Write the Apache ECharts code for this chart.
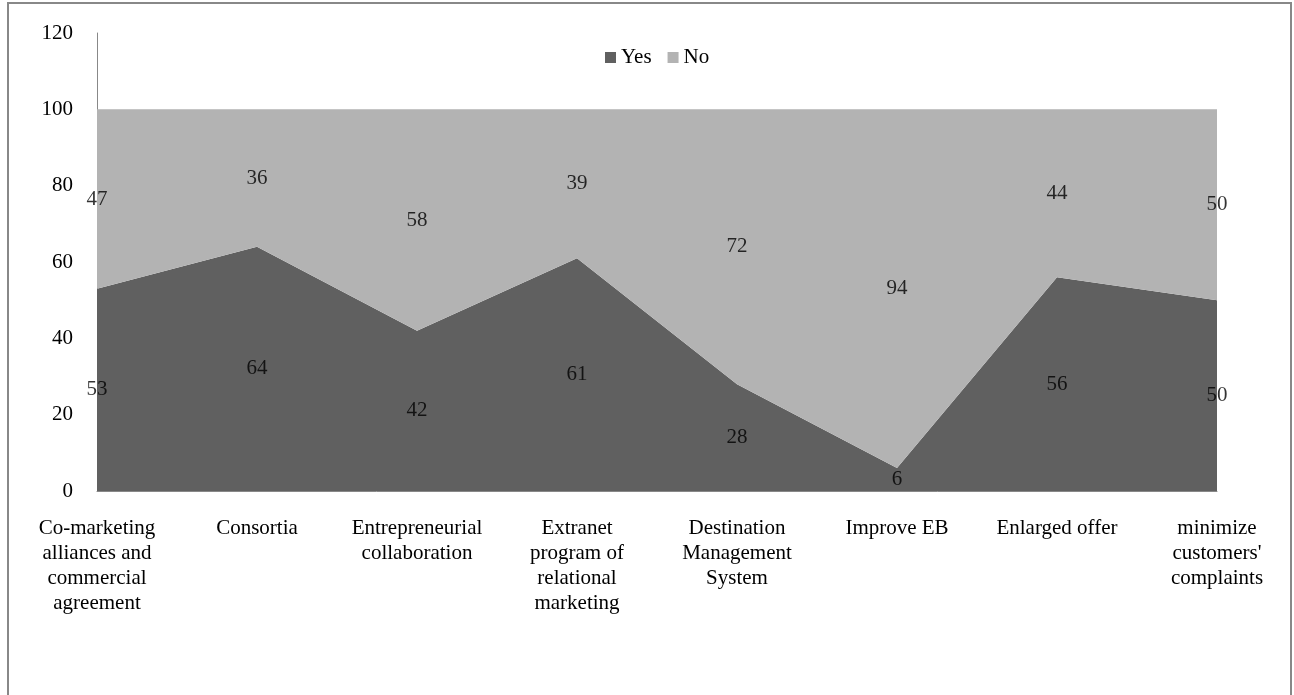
<!DOCTYPE html>
<html>
<head>
<meta charset="utf-8">
<script src="https://cdn.jsdelivr.net/npm/echarts@6/dist/echarts.min.js"></script>
<style>
  html, body { margin: 0; padding: 0; background: #fff; }
  #chart { width: 1294px; height: 695px; }
</style>
</head>
<body>
<div id="chart"></div>
<script>
// Categories (line breaks as they appear under the axis)
const categories = [
  'Co-marketing\nalliances and\ncommercial\nagreement',
  'Consortia',
  'Entrepreneurial\ncollaboration',
  'Extranet\nprogram of\nrelational\nmarketing',
  'Destination\nManagement\nSystem',
  'Improve EB',
  'Enlarged offer',
  "minimize\ncustomers'\ncomplaints"
];
const yesValues = [53, 64, 42, 61, 28, 6, 56, 50];
const noValues  = [47, 36, 58, 39, 72, 94, 44, 50];
const yTicks = [0, 20, 40, 60, 80, 100, 120];

const FONT = '"Liberation Serif", "Times New Roman", serif';
const FONT_SIZE = 21;
const YES_COLOR = '#606060';
const NO_COLOR = '#b3b3b3';

// Label anchors sit at the middle of each stacked band
const yesMid = yesValues.map(v => v / 2);
const noMid = yesValues.map((v, i) => v + noValues[i] / 2);

function labelSeries(mids, values) {
  return {
    type: 'scatter',
    data: mids.map((m, i) => ({ value: m, raw: values[i] })),
    symbolSize: 0,
    silent: true,
    z: 5,
    label: {
      show: true,
      position: 'inside',
      formatter: p => String(p.data.raw),
      color: '#000',
      textBorderWidth: 0,
      textBorderColor: 'transparent',
      fontFamily: FONT,
      fontSize: FONT_SIZE
    }
  };
}

const chart = echarts.init(document.getElementById('chart'));
chart.setOption({
  animation: false,
  backgroundColor: '#fff',
  graphic: [{
    type: 'rect',
    shape: { x: 8, y: 3, width: 1283, height: 760 },
    style: { fill: 'none', stroke: '#888', lineWidth: 2 },
    silent: true
  }],
  legend: {
    data: [
      { name: 'Yes', icon: 'rect' },
      { name: 'No', icon: 'rect' }
    ],
    top: 42,
    left: 600,
    itemWidth: 11,
    itemHeight: 11,
    itemGap: 16,
    textStyle: { fontFamily: FONT, fontSize: FONT_SIZE, color: '#000' }
  },
  grid: { left: 97, right: 77, top: 33, bottom: 204, containLabel: false },
  xAxis: {
    type: 'category',
    data: categories,
    boundaryGap: false,
    axisLine: { show: true, lineStyle: { color: '#888', width: 1 } },
    axisTick: { show: false },
    axisLabel: {
      interval: 0,
      margin: 25,
      color: '#000',
      fontFamily: FONT,
      fontSize: FONT_SIZE,
      lineHeight: 25,
      align: 'center'
    },
    splitLine: { show: false }
  },
  yAxis: {
    type: 'value',
    min: yTicks[0],
    max: yTicks[yTicks.length - 1],
    interval: yTicks[1] - yTicks[0],
    axisLine: { show: true, lineStyle: { color: '#888', width: 1 } },
    axisTick: { show: false },
    splitLine: { show: false },
    axisLabel: {
      margin: 24,
      color: '#000',
      fontFamily: FONT,
      fontSize: FONT_SIZE
    }
  },
  series: [
    {
      name: 'Yes',
      type: 'line',
      stack: 'total',
      data: yesValues,
      symbol: 'none',
      lineStyle: { width: 0 },
      itemStyle: { color: YES_COLOR },
      areaStyle: { color: YES_COLOR, opacity: 1 }
    },
    {
      name: 'No',
      type: 'line',
      stack: 'total',
      data: noValues,
      symbol: 'none',
      lineStyle: { width: 0 },
      itemStyle: { color: NO_COLOR },
      areaStyle: { color: NO_COLOR, opacity: 1 }
    },
    labelSeries(yesMid, yesValues),
    labelSeries(noMid, noValues)
  ]
});
</script>
</body>
</html>
